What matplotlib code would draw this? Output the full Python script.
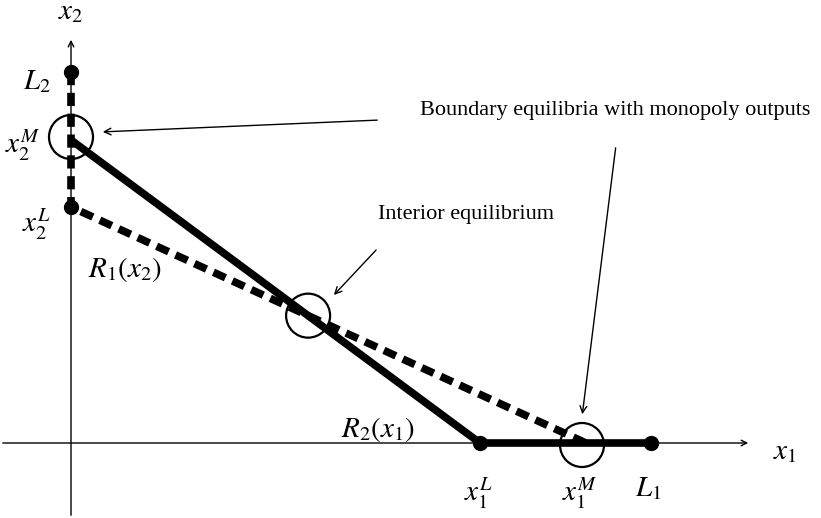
import matplotlib.pyplot as plt
from matplotlib.patches import Circle

plt.rcParams['font.family'] = ['Liberation Serif', 'DejaVu Serif']
plt.rcParams['mathtext.fontset'] = 'stix'
plt.rcParams['lines.scale_dashes'] = False

# key quantities on each axis
L1, x1M, x1L = 580, 515, 409
L2, x2M, x2L = 371, 303, 236

# best responses: R2 (solid) and R1 (dashed)
r2_x = [0, x1L, L1]
r2_y = [x2M, 0, 0]
r1_x = [0, 0, x1M]
r1_y = [L2, x2L, 0]

# interior equilibrium = crossing of the two sloped pieces
xi = (x2M - x2L) / (x2M / x1L - x2L / x1M)
yi = x2M - x2M / x1L * xi

fig = plt.figure(figsize=(8.21, 5.18), dpi=100)
ax = fig.add_axes([0, 0, 1, 1])
ax.set_xlim(-71, 750)
ax.set_ylim(-75, 443)
ax.set_aspect('equal')
ax.axis('off')

# axes with arrows
ax.annotate('', xy=(680, 0), xytext=(-71, 0),
            arrowprops=dict(arrowstyle='->', lw=1.0, color='black', mutation_scale=10))
ax.annotate('', xy=(0, 406), xytext=(0, -75),
            arrowprops=dict(arrowstyle='->', lw=1.0, color='black', mutation_scale=10))
fs = 21
ax.text(0, 431, r'$x_2$', fontsize=fs, ha='center', va='center')
ax.text(714, -9, r'$x_1$', fontsize=fs, ha='center', va='center')

ax.plot(r2_x, r2_y, color='black', lw=5.5, solid_capstyle='butt', zorder=3)
ax.plot(r1_x, r1_y, color='black', lw=5.5, dashes=(9.5, 5.5), zorder=3)

ax.plot([0, 0, x1L, L1], [L2, x2L, 0, 0], 'o', color='black', ms=10, zorder=4)

for cx, cy in [(0, x2M + 3), (xi, yi), (x1M - 4, -2)]:
    ax.add_patch(Circle((cx, cy), 22, fill=False, lw=1.6, color='black', zorder=5))

# labels on the axes
ax.text(-34, 361, r'$L_2$', fontsize=fs, ha='center', va='center')
ax.text(-48, 298, r'$x_2^M$', fontsize=fs, ha='center', va='center')
ax.text(-35, 219, r'$x_2^L$', fontsize=fs, ha='center', va='center')
ax.text(x1L - 2, -50, r'$x_1^L$', fontsize=fs, ha='center', va='center')
ax.text(x1M - 6, -50, r'$x_1^M$', fontsize=fs, ha='center', va='center')
ax.text(L1 - 3, -46, r'$L_1$', fontsize=fs, ha='center', va='center')
ax.text(54, 173, r'$R_1(x_2)$', fontsize=fs, ha='center', va='center')
ax.text(307, 13, r'$R_2(x_1)$', fontsize=fs, ha='center', va='center')

# annotations
arr = dict(arrowstyle='->', lw=1.0, color='black', mutation_scale=12)
ax.text(395, 228, 'Interior equilibrium', fontsize=16, ha='center', va='center')
ax.annotate('', xy=(261, 146), xytext=(307, 195), arrowprops=arr)
ax.text(544, 333, 'Boundary equilibria with monopoly outputs', fontsize=16,
        ha='center', va='center')
ax.annotate('', xy=(29, 311), xytext=(309, 323), arrowprops=arr)
ax.annotate('', xy=(511, 26), xytext=(545, 298), arrowprops=arr)

fig.savefig('out.png', dpi=100)
